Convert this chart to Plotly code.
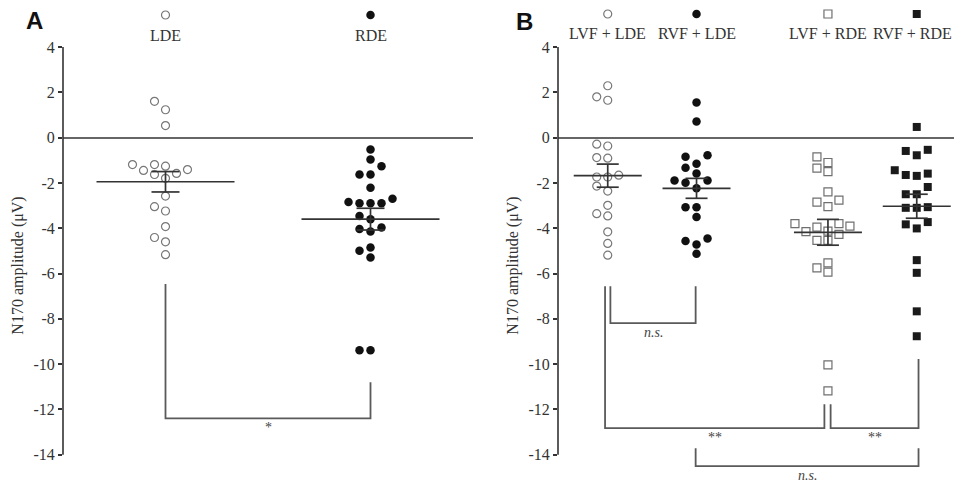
import plotly.graph_objects as go

# ---------------- data ----------------
a_groups = ["LDE", "RDE"]
a_lde = [1.60, 1.23, 0.53, -1.19, -1.26, -1.19, -1.45, -1.41, -1.63, -1.58, -1.80,
         -2.58, -3.05, -3.24, -3.93, -4.41, -4.60, -5.17]
a_rde = [-0.53, -0.97, -1.26, -1.63, -1.63, -2.21, -2.70, -2.90, -2.90, -2.90, -2.84,
         -3.46, -3.60, -3.97, -4.15, -4.04, -5.00, -5.29, -4.85, -9.39, -9.39]
a_means = [-1.95, -3.60]
a_sems = [0.45, 0.48]

b_groups = ["LVF + LDE", "RVF + LDE", "LVF + RDE", "RVF + RDE"]
b_lvf_lde = [2.29, 1.65, 1.80, -0.29, -0.37, -0.91, -0.88, -1.74, -1.74, -1.66, -2.14,
             -2.36, -2.99, -3.36, -3.46, -4.16, -4.67, -5.19]
b_rvf_lde = [1.55, 0.71, -0.78, -0.85, -1.15, -1.33, -1.58, -1.89, -1.99, -1.89, -2.24,
             -3.07, -3.07, -3.51, -4.45, -4.57, -4.72, -5.13]
b_lvf_rde = [-0.85, -1.10, -1.35, -1.50, -2.40, -2.76, -2.85, -3.05, -3.80, -3.95, -3.91,
             -3.80, -4.13, -4.15, -4.27, -4.54, -4.54, -5.53, -5.94, -5.75, -10.03, -11.18]
b_rvf_rde = [0.47, -0.54, -0.59, -0.78, -1.44, -1.65, -1.69, -1.59, -2.18, -2.50, -2.50,
             -3.10, -3.10, -3.07, -3.73, -4.01, -3.83, -5.41, -5.97, -7.67, -8.77]
b_means = [-1.68, -2.24, -4.18, -3.03]
b_sems = [0.51, 0.44, 0.57, 0.53]

tick_vals = [4, 2, 0, -2, -4, -6, -8, -10, -12, -14]
tick_text = ["4", "2", "0", "-2", "-4", "-6", "-8", "-10", "-12", "-14"]
y_title = "N170 amplitude (\u03bcV)"

# ---------------- layout geometry ----------------
# the page body has an 8px default margin: the figure starts at page (8, 8)
OFF = 8
W, H = 962 - 2 * OFF, 484 - OFF
PX_PER_Y = 22.65
head_h = 47 - OFF
main_h = H - head_h
Y_RANGE = [4 - main_h / PX_PER_Y, 4]
MAIN_DOM = [0, main_h / H]
HEAD_DOM = [main_h / H, 1]

B_PX_PER_X = 88.8
A_DOM = [(63 - OFF) / W, (473 - OFF) / W]
A_XR = [-0.5, 1.5]
A_POS = [0, 1]
B_DOM = [(558 - OFF) / W, 1.0]
B_XR = [-0.56, -0.56 + (B_DOM[1] - B_DOM[0]) * W / B_PX_PER_X]
B_POS = [0, 1, 2.48, 3.48]

a_px_x = (A_DOM[1] - A_DOM[0]) * W / (A_XR[1] - A_XR[0])
b_px_x = (B_DOM[1] - B_DOM[0]) * W / (B_XR[1] - B_XR[0])

SERIF = "Liberation Serif"
DARK = "#333333"
GREY_LINE = "#5a5a5a"


def swarm(values, slot_units, thresh_px=9.0):
    """Simple beeswarm: spread points that would overlap vertically."""
    n = len(values)
    order = sorted(range(n), key=lambda i: values[i])
    placed = []
    offs = [0.0] * n
    for i in order:
        y = values[i] * PX_PER_Y
        for s in [0, -1, 1, -2, 2, -3, 3]:
            if all(not (ps == s and abs(py - y) < thresh_px) for py, ps in placed):
                placed.append((y, s))
                offs[i] = s * slot_units
                break
    return offs


fig = go.Figure()

styles = {
    "oc": dict(symbol="circle-open", size=8, color="#777777", line=dict(width=1.2, color="#777777")),
    "fc": dict(symbol="circle", size=8.5, color="#111111"),
    "os": dict(symbol="square-open", size=8, color="#6f6f6f", line=dict(width=1.2, color="#6f6f6f")),
    "fs": dict(symbol="square", size=8, color="#1a1a1a"),
}


def add_panel(groups, series, pos, means, sems, style_keys, xa, ya, yh, px_x,
              mean_half_px, cap_half_px, header_label_y, header_mark_y, last_shift=0):
    slot = 11 / px_x
    for k, (g, vals, p, sk) in enumerate(zip(groups, series, pos, style_keys)):
        offs = swarm(vals, slot)
        fig.add_trace(go.Scatter(
            x=[p + o for o in offs], y=vals, mode="markers",
            marker=styles[sk], xaxis=xa, yaxis=ya, showlegend=False, hoverinfo="y"))
        # header marker (legend-like key above each column)
        fig.add_trace(go.Scatter(
            x=[p], y=[header_mark_y], mode="markers", marker=styles[sk],
            xaxis=xa, yaxis=yh, showlegend=False, hoverinfo="skip"))
        fig.add_annotation(x=p, y=header_label_y, xref=xa, yref=yh, text=g, showarrow=False,
                           xshift=last_shift if k == len(groups) - 1 else 0,
                           font=dict(family=SERIF, size=16, color=DARK))
    # mean +- SEM
    mh = mean_half_px / px_x
    ch = cap_half_px / px_x
    xs, ys = [], []
    for p, m, s in zip(pos, means, sems):
        xs += [p - mh, p + mh, None, p, p, None, p - ch, p + ch, None, p - ch, p + ch, None]
        ys += [m, m, None, m - s, m + s, None, m + s, m + s, None, m - s, m - s, None]
    fig.add_trace(go.Scatter(x=xs, y=ys, mode="lines", line=dict(color=DARK, width=1.7),
                             xaxis=xa, yaxis=ya, showlegend=False, hoverinfo="skip"))


add_panel(a_groups, [a_lde, a_rde], A_POS, a_means, a_sems, ["oc", "fc"], "x", "y", "y3",
          a_px_x, 69, 14, 35 - OFF, 15 - OFF)
add_panel(b_groups, [b_lvf_lde, b_rvf_lde, b_lvf_rde, b_rvf_rde], B_POS, b_means, b_sems,
          ["oc", "fc", "os", "fs"], "x2", "y2", "y4", b_px_x, 34, 11, 33 - OFF, 14 - OFF,
          last_shift=-4)


# ---------------- significance brackets ----------------
def bracket(xa, ya, x0, x1, top0, top1, bottom, label, italic, gap=0.4):
    fig.add_trace(go.Scatter(x=[x0, x0, x1, x1], y=[top0, bottom, bottom, top1], mode="lines",
                             line=dict(color=GREY_LINE, width=1.8), xaxis=xa, yaxis=ya,
                             showlegend=False, hoverinfo="skip"))
    txt = "<i>%s</i>" % label if italic else label
    fig.add_annotation(x=(x0 + x1) / 2, y=bottom - gap, xref=xa, yref=ya, text=txt,
                       showarrow=False, font=dict(family=SERIF, size=14, color="#444444"),
                       yanchor="middle")


# panel A
bracket("x", "y", A_POS[0], A_POS[1], -6.46, -10.8, -12.4, "*", False)
# panel B
bracket("x2", "y2", B_POS[0] + 0.03, B_POS[1] - 0.01, -6.56, -6.56, -8.19, "n.s.", True)
bracket("x2", "y2", B_POS[0] - 0.03, B_POS[2] - 0.04, -6.56, -11.77, -12.83, "**", False)
bracket("x2", "y2", B_POS[2] + 0.03, B_POS[3] + 0.02, -11.77, -9.78, -12.83, "**", False)
bracket("x2", "y2", B_POS[1] - 0.01, B_POS[3] + 0.02, -13.72, -13.72, -14.5, "n.s.", True)

# y axis lines from -14 to 4
for xr, yr in [("x domain", "y"), ("x2 domain", "y2")]:
    fig.add_shape(type="line", xref=xr, yref=yr, x0=0, x1=0, y0=-14, y1=4,
                  line=dict(color=DARK, width=1.6))

# panel letters
fig.add_annotation(x=(24 - OFF) / W, y=20 - OFF, xref="paper", yref="y3", text="<b>A</b>",
                   showarrow=False, font=dict(family="Liberation Sans", size=24, color="#111111"))
fig.add_annotation(x=(524 - OFF) / W, y=21 - OFF, xref="paper", yref="y4", text="<b>B</b>",
                   showarrow=False, font=dict(family="Liberation Sans", size=24, color="#111111"))

yaxis_common = dict(
    domain=MAIN_DOM, range=Y_RANGE, tickmode="array", tickvals=tick_vals, ticktext=tick_text,
    ticks="outside", ticklen=4, tickwidth=1.5, tickcolor=DARK,
    tickfont=dict(family=SERIF, size=16, color=DARK),
    showgrid=False, showline=False, zeroline=True, zerolinecolor="#666666", zerolinewidth=2,
    title=dict(text=y_title, font=dict(family=SERIF, size=16, color=DARK), standoff=5),
)
head_common = dict(domain=HEAD_DOM, range=[head_h, 0], visible=False, showgrid=False,
                   zeroline=False)

fig.update_layout(
    width=W, height=H, margin=dict(l=0, r=0, t=0, b=0, autoexpand=False),
    plot_bgcolor="white", paper_bgcolor="white", showlegend=False,
    xaxis=dict(domain=A_DOM, range=A_XR, visible=False),
    xaxis2=dict(domain=B_DOM, range=B_XR, visible=False),
    yaxis=dict(anchor="x", **yaxis_common),
    yaxis2=dict(anchor="x2", **yaxis_common),
    yaxis3=dict(anchor="x", **head_common),
    yaxis4=dict(anchor="x2", **head_common),
)

fig.write_html("out.html")
